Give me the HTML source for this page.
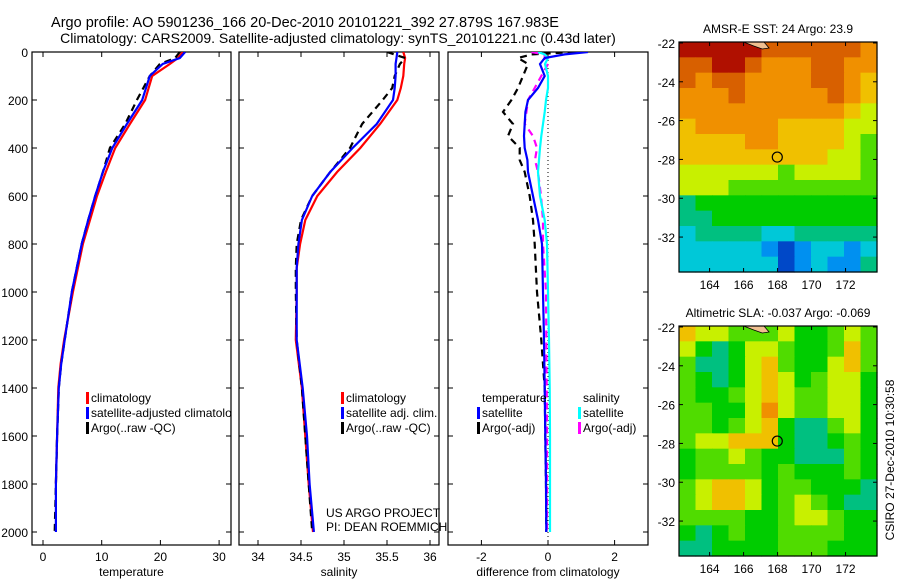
<!DOCTYPE html>
<html><head><meta charset="utf-8"><style>
body{margin:0;background:#fff;}
svg{display:block;font-family:"Liberation Sans",sans-serif;}
</style></head><body>
<svg id="fig" width="900" height="580" xmlns="http://www.w3.org/2000/svg">
<g text-anchor="middle">
<text x="305" y="27" font-size="14.5">Argo profile: AO 5901236_166 20-Dec-2010 20101221_392 27.879S 167.983E</text>
<text x="338" y="43" font-size="14">Climatology: CARS2009. Satellite-adjusted climatology: synTS_20101221.nc (0.43d later)</text>
</g>
</svg>
<script>
const depth=[0,25,50,100,200,300,400,500,600,700,800,1000,1200,1300,1400,1600,1800,2000];
const tempClim=[23.8,23,21.6,18.6,17.4,14.8,12.3,10.7,9.2,8,6.8,5.1,3.6,3.0,2.6,2.4,2.2,null];
const tempSat=[24.2,23.3,20.4,18.2,16.9,14.3,11.8,10.2,8.9,7.7,6.6,4.9,3.7,3.1,2.7,2.4,2.2,2.2];
const tempArgo=[23.3,22.5,19.9,18.2,16,14,11.4,10.2,8.9,7.7,6.6,4.9,3.7,3.1,2.7,2.4,2.2,2.0];
const salDepth=[0,25,50,100,150,200,300,400,500,600,700,800,900,1000,1200,1400,1600,1800,2000];
const salClim=[35.69,35.71,35.70,35.69,35.66,35.62,35.42,35.19,34.92,34.69,34.55,34.49,34.45,34.45,34.44,34.51,34.55,34.59,34.64];
const salSat=[35.62,35.61,35.60,35.60,35.59,35.57,35.38,35.10,34.84,34.63,34.51,34.47,34.45,34.45,34.45,34.52,34.57,34.60,34.65];
const salArgo=[35.50,35.71,35.65,35.59,35.56,35.45,35.21,35.07,34.84,34.63,34.50,34.45,34.44,34.44,34.45,34.51,34.55,34.59,34.63];
const diffDepth=[0,10,25,50,100,150,200,250,300,350,400,450,500,600,700,800,1000,1200,1400,1600,1800,2000];
const dTempSat=[1.2,0.5,-0.1,-0.24,-0.1,-0.3,-0.6,-0.68,-0.7,-0.72,-0.7,-0.62,-0.6,-0.45,-0.3,-0.18,-0.15,-0.12,-0.1,-0.08,-0.06,-0.05];
const dTempArgo=[0.8,-0.5,-0.9,-0.6,-0.75,-0.9,-1.1,-1.35,-1.05,-1.2,-0.85,-0.85,-0.7,-0.55,-0.45,-0.4,-0.33,-0.2,-0.1,-0.08,-0.06,-0.05];
const dSalArgo=[-0.5,-0.1,-0.1,0.0,-0.2,-0.4,-0.6,-0.65,-0.7,-0.45,-0.33,-0.39,-0.3,-0.21,-0.15,-0.15,-0.06,-0.05,-0.04,-0.03,-0.03,-0.03];
const dSalSat=[-0.3,-0.1,0.0,-0.09,0.0,0.0,-0.06,-0.1,-0.15,-0.2,-0.24,-0.27,-0.3,-0.24,-0.1,-0.03,0.0,0.03,0.05,0.06,0.06,0.06];
const tempTicks=[0,10,20,30];
const salTicks=[34,34.5,35,35.5,36];
const diffTicks=[-2,0,2];
const depthTicks=[0,200,400,600,800,1000,1200,1400,1600,1800,2000];
const lonTicks=[164,166,168,170,172];
const latTicks=[-22,-24,-26,-28,-30,-32];
const sstGrid=[
[10,10,10,10,10,9,9,9,9,9,9,8],
[9,9,10,10,9,8,8,8,9,9,8,8],
[9,8,9,9,8,8,8,8,9,9,8,7],
[8,8,8,9,8,8,8,8,8,9,8,7],
[8,8,8,8,8,8,8,8,8,8,7,6],
[7,8,8,8,8,8,7,7,7,7,6,6],
[7,7,7,7,8,8,7,7,7,7,6,5],
[7,7,7,7,7,7,7,7,7,6,6,5],
[6,6,6,6,6,6,5,6,6,6,6,5],
[6,6,6,5,5,5,5,5,5,5,5,5],
[3,4,4,4,4,4,4,4,4,4,4,4],
[3,3,4,4,4,4,4,4,4,4,4,4],
[2,3,3,3,3,2,2,3,3,3,3,3],
[2,2,2,2,2,1,0,1,2,2,1,2],
[2,2,2,2,2,2,0,1,2,1,1,3]];
const slaGrid=[
[7,6,6,5,5,5,6,4,4,5,6,5],
[6,4,3,4,6,6,5,4,4,5,7,5],
[5,3,3,4,6,7,5,4,4,6,7,5],
[5,4,3,4,6,7,6,4,5,6,6,4],
[5,4,4,5,6,7,6,5,5,6,6,4],
[5,5,4,4,6,8,6,5,5,6,6,4],
[5,5,4,5,6,7,4,3,3,5,6,4],
[5,6,6,7,7,7,4,3,3,4,5,4],
[4,5,5,6,5,4,4,3,3,3,5,4],
[4,5,5,5,5,4,5,4,4,4,5,4],
[5,6,7,7,6,4,5,5,4,4,4,3],
[5,6,7,7,6,4,5,6,5,4,3,3],
[5,5,5,5,4,4,5,6,6,5,4,4],
[4,3,4,5,4,4,5,5,5,5,4,4],
[3,3,4,4,4,4,5,5,5,4,4,4]];
const cmap=['#0048c8','#0090f0','#00c8d8','#00c080','#00cc00','#50dc00','#c8f000','#f0c000','#f09000','#d86000','#b01000'];
const argoLon=167.983, argoLat=-27.879;

const NS='http://www.w3.org/2000/svg';
const svg=document.getElementById('fig');
function el(tag,attrs,parent){const e=document.createElementNS(NS,tag);for(const k in attrs)e.setAttribute(k,attrs[k]);(parent||svg).appendChild(e);return e;}
function txt(s,attrs,parent){const t=el('text',attrs,parent);t.textContent=s;return t;}
const yTop=52, yBot=545;
function yD(d){return 52+d*0.24;}

function panel(name,x0,x1,xf,ticks,fmt,label){
  const g=el('g',{});
  
  
  const cid='clip-'+name;
  const cp=el('clipPath',{id:cid},g);el('rect',{x:x0,y:yTop,width:x1-x0,height:yBot-yTop},cp);
  const fr=el('rect',{x:x0,y:yTop,width:x1-x0,height:yBot-yTop,fill:'none',stroke:'#000','stroke-width':1.2},g);
  
  
  ticks.forEach(t=>{const x=xf(t);
    el('line',{x1:x,x2:x,y1:yBot,y2:yBot-5,stroke:'#000'},g);
    el('line',{x1:x,x2:x,y1:yTop,y2:yTop+5,stroke:'#000'},g);
    const tl=txt(fmt(t),{x:x,y:561,'font-size':12,'text-anchor':'middle'},g);
    
    });
  depthTicks.forEach(d=>{const y=yD(d);
    el('line',{x1:x0,x2:x0+5,y1:y,y2:y,stroke:'#000'},g);
    el('line',{x1:x1,x2:x1-5,y1:y,y2:y,stroke:'#000'},g);});
  const xl=txt(label,{x:(x0+x1)/2,y:576,'font-size':12,'text-anchor':'middle'},g);
  
  
  const plot=el('g',{'clip-path':'url(#'+cid+')'},g);
  return plot;
}
function line(plot,xs,ds,xf,color,dash,nm){
  let p='';let started=false;
  xs.forEach((v,i)=>{if(v===null)return;p+=(started?'L':'M')+xf(v).toFixed(1)+','+yD(ds[i]).toFixed(1);started=true;});
  const a={d:p,fill:'none',stroke:color,'stroke-width':2.2};
  if(dash)a['stroke-dasharray']=dash;
  const e=el('path',a,plot);
  
  
}
function legend(plot,x,y,items){
  items.forEach((it,i)=>{
    if(it.c)el('rect',{x:x-4,y:y+i*15-10,width:3,height:12,fill:it.c},plot);
    const t=txt(it.t,{x:x+1,y:y+i*15,'font-size':12},plot);
    
    
  });
}
const xT=t=>43+5.87*t;
const p1=panel('temperature-panel',32,231,xT,tempTicks,String,'temperature');
depthTicks.forEach(d=>{const t=txt(String(d),{x:28,y:yD(d)+5,'font-size':12,'text-anchor':'end'});
  
  });
line(p1,tempClim,depth,xT,'#f00',null,'temp-climatology-line');
line(p1,tempArgo,depth,xT,'#000','7,5','temp-argo-line');
line(p1,tempSat,depth,xT,'#00f',null,'temp-satellite-line');
legend(p1,90,402,[{c:'#f00',t:'climatology'},{c:'#00f',t:'satellite-adjusted climatology'},{c:'#000',t:'Argo(..raw -QC)'}]);
const xS=s=>258+86*(s-34);
const p2=panel('salinity-panel',239,439,xS,salTicks,String,'salinity');
line(p2,salClim,salDepth,xS,'#f00',null,'sal-climatology-line');
line(p2,salArgo,salDepth,xS,'#000','7,5','sal-argo-line');
line(p2,salSat,salDepth,xS,'#00f',null,'sal-satellite-line');
legend(p2,345,402,[{c:'#f00',t:'climatology'},{c:'#00f',t:'satellite adj. clim.'},{c:'#000',t:'Argo(..raw -QC)'}]);
const c1=txt('US ARGO PROJECT',{x:326,y:517,'font-size':12});


const c2=txt('PI: DEAN ROEMMICH',{x:326,y:531,'font-size':12});


const xDf=d=>548+33.3*d;
const p3=panel('difference-panel',448,648,xDf,diffTicks,String,'difference from climatology');
el('line',{x1:xDf(0),x2:xDf(0),y1:yTop,y2:yBot,stroke:'#000','stroke-dasharray':'1,3'},p3);
line(p3,dTempArgo,diffDepth,xDf,'#000','7,5','diff-temp-argo-line');
line(p3,dSalArgo,diffDepth,xDf,'#f0f','7,5','diff-sal-argo-line');
line(p3,dSalSat,diffDepth,xDf,'#0ff',null,'diff-sal-satellite-line');
line(p3,dTempSat,diffDepth,xDf,'#00f',null,'diff-temp-satellite-line');
legend(p3,481,402,[{t:'temperature'},{c:'#00f',t:'satellite'},{c:'#000',t:'Argo(-adj)'}]);
legend(p3,582,402,[{t:'salinity'},{c:'#0ff',t:'satellite'},{c:'#f0f',t:'Argo(-adj)'}]);
function map(name,grid,x0,y0,x1,y1,title){
  const g=el('g',{});
  
  
  const lon0=162.2,lon1=173.85,lat0=-21.95,lat1=-33.8;
  const xL=l=>x0+(l-lon0)/(lon1-lon0)*(x1-x0);
  const yL=l=>y0+(l-lat0)/(lat1-lat0)*(y1-y0);
  const rows=grid.length,cols=grid[0].length;
  const cw=(x1-x0)/cols,ch=(y1-y0)/rows;
  grid.forEach((r,i)=>r.forEach((v,j)=>{
    const c=el('rect',{x:(x0+j*cw).toFixed(2),y:(y0+i*ch).toFixed(2),width:(cw+0.6).toFixed(2),height:(ch+0.6).toFixed(2),fill:cmap[v]},g);
    
    
  }));
  el('path',{d:`M${xL(166.0)},${y0} L${xL(166.6)},${y0+4} L${xL(167.1)},${y0+7} L${xL(167.5)},${y0+6} L${xL(167.2)},${y0} Z`,fill:'#f0c090',stroke:'#000','stroke-width':0.8},g);
  el('rect',{x:x0,y:y0,width:x1-x0,height:y1-y0,fill:'none',stroke:'#000','stroke-width':1.2},g);
  lonTicks.forEach(l=>{const x=xL(l);el('line',{x1:x,x2:x,y1:y1,y2:y1-4,stroke:'#000'},g);el('line',{x1:x,x2:x,y1:y0,y2:y0+4,stroke:'#000'},g);
    txt(String(l),{x:x,y:y1+17,'font-size':12,'text-anchor':'middle'},g);});
  latTicks.forEach(l=>{const y=yL(l);el('line',{x1:x0,x2:x0+4,y1:y,y2:y,stroke:'#000'},g);el('line',{x1:x1,x2:x1-4,y1:y,y2:y,stroke:'#000'},g);
    txt(String(l),{x:x0-4,y:y+5,'font-size':12,'text-anchor':'end'},g);});
  const c=el('circle',{cx:xL(argoLon),cy:yL(argoLat),r:5,fill:'none',stroke:'#000','stroke-width':1.2},g);
  
  
  const t=txt(title,{x:(x0+x1)/2,y:y0-9,'font-size':12,'text-anchor':'middle'},g);
  
  
}
map('sst-map',sstGrid,679,42,877,272,'AMSR-E SST: 24  Argo: 23.9');
map('sla-map',slaGrid,679,326,877,556,'Altimetric SLA: -0.037  Argo: -0.069');
const st=txt('CSIRO 27-Dec-2010 10:30:58',{x:0,y:0,'font-size':12,'text-anchor':'middle',transform:'translate(894,460) rotate(-90)'});


</script>
</body></html>
